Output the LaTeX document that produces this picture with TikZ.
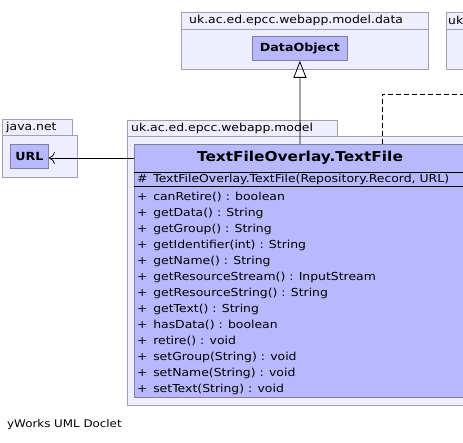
\documentclass[tikz,border=0pt]{standalone}
\usepackage{fontspec}
\setmainfont{DejaVu Sans}
\usetikzlibrary{arrows.meta}
\newcommand\wtxt[1]{\scalebox{1.13}[1]{#1}}
\newcommand\vis[1]{#1\hspace{5pt}}
\definecolor{pkgfill}{RGB}{238,238,255}
\definecolor{pkgline}{RGB}{160,160,176}
\definecolor{clsfill}{RGB}{184,184,255}
\definecolor{clsline}{RGB}{128,128,160}
\begin{document}
\begin{tikzpicture}[x=1pt,y=-1pt,
  pkgbox/.style={draw=pkgline,fill=pkgfill,line width=0.8pt,inner sep=0pt,anchor=north west},
  clsbox/.style={draw=clsline,fill=clsfill,line width=0.8pt,inner sep=0pt,anchor=north west},
  pkglabel/.style={anchor=west,inner sep=0pt,font=\fontsize{11}{13}\selectfont},
  member/.style={anchor=west,inner sep=0pt,font=\fontsize{11}{13}\selectfont},
  smallcls/.style={font=\bfseries\fontsize{11.2}{13}\selectfont,inner sep=0pt}
]
\useasboundingbox (0,0) rectangle (463,443);
\begin{scope}
\clip (0,0) rectangle (463,443);
% right package (cut off)
\node[pkgbox,minimum width=40pt,minimum height=17pt] (pkgRtab) at (446,12) {};
\node[pkgbox,minimum width=40pt,minimum height=40pt] (pkgR) at (446,29) {};
\node[pkglabel] (pkgRlbl) at (448,20.5) {\wtxt{uk}};
% data package
\node[pkgbox,minimum width=247pt,minimum height=17pt] (pkgDtab) at (181,12) {};
\node[pkgbox,minimum width=247pt,minimum height=40pt] (pkgD) at (181,29) {};
\node[pkglabel] (pkgDlbl) at (189,20.5) {\wtxt{uk.ac.ed.epcc.webapp.model.data}};
\node[clsbox,minimum width=95pt,minimum height=24pt] (DataObject) at (252,36) {};
\node[smallcls] at (DataObject.center) {\wtxt{DataObject}};
% java.net package
\node[pkgbox,minimum width=70pt,minimum height=16pt] (pkgJtab) at (2,119) {};
\node[pkgbox,minimum width=75pt,minimum height=42pt] (pkgJ) at (2,135) {};
\node[pkglabel] (pkgJlbl) at (6,127.5) {\wtxt{java.net}};
\node[clsbox,minimum width=38pt,minimum height=24pt] (URL) at (10,144) {};
\node[smallcls] at (URL.center) {\wtxt{URL}};
% model package
\node[pkgbox,minimum width=210pt,minimum height=16pt] (pkgMtab) at (127,120) {};
\node[pkgbox,minimum width=350pt,minimum height=269pt] (pkgM) at (127,136) {};
\node[pkglabel] (pkgMlbl) at (131,128.5) {\wtxt{uk.ac.ed.epcc.webapp.model}};
% class
\node[clsbox,minimum width=340pt,minimum height=253pt] (TF) at (134,144) {};
\draw[line width=0.8pt] (134,172) -- (475,172);
\draw[line width=0.8pt] (134,186.5) -- (475,186.5);
\node[font=\bfseries\fontsize{13.6}{15}\selectfont,inner sep=0pt] (TFtitle) at (300,158) {\wtxt{TextFileOverlay.TextFile}};
\node[member] at (137,179.5) {\wtxt{\vis{\#}TextFileOverlay.TextFile(Repository.Record, URL)}};
\foreach \t [count=\i from 0] in {canRetire() : boolean, getData() : String, getGroup() : String, getIdentifier(int) : String, getName() : String, getResourceStream() : InputStream, getResourceString() : String, getText() : String, hasData() : boolean, retire() : void, setGroup(String) : void, setName(String) : void, setText(String) : void}{
  \node[member] at (137,197+16*\i) {\wtxt{\vis{+}\t}};
}
% connectors
\coordinate (dashEnd) at (470,94);
\draw[dash pattern=on 5pt off 3pt,line width=0.8pt] (382,144) |- (dashEnd);
\end{scope}
\draw[line width=0.8pt,-{Triangle[open,width=13pt,length=17pt]}] (300,144) -- (DataObject.south);
\draw[line width=0.8pt,-{To[length=6pt,width=12pt]}] (TF.west |- 0,158) -- (URL.east |- 0,158);
\node[anchor=west,inner sep=0pt,font=\fontsize{10.5}{12}\selectfont] (credit) at (7,425) {\wtxt{yWorks UML Doclet}};
\end{tikzpicture}
\end{document}
